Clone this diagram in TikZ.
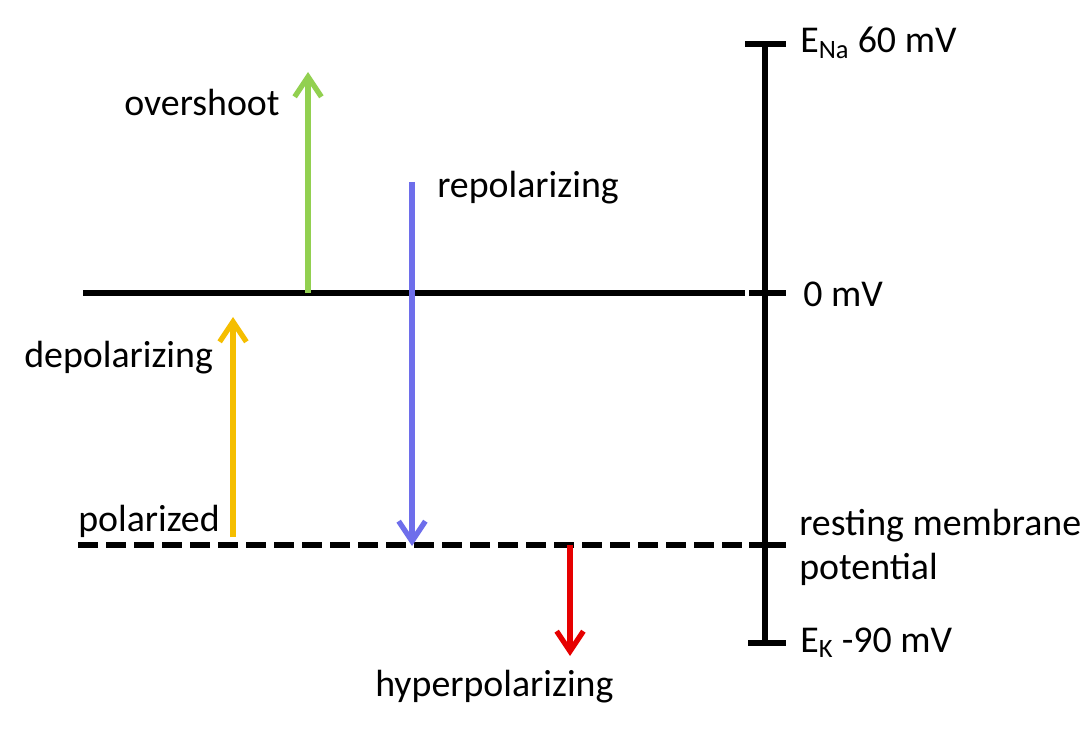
\documentclass[tikz,border=0pt]{standalone}
\usepackage{fontspec}
\setmainfont{Carlito}
\usetikzlibrary{arrows.meta}
\definecolor{cgreen}{RGB}{146,208,80}
\definecolor{cyellow}{RGB}{245,190,0}
\definecolor{cblue}{RGB}{110,110,235}
\definecolor{cred}{RGB}{230,0,0}
\begin{document}
\begin{tikzpicture}[x=0.75pt,y=-0.75pt,
  lbl/.style={inner sep=0pt,font=\fontsize{28.4}{33}\selectfont},
  axisline/.style={line width=3.9pt,black},
  varrow/.style={line width=4pt,-{Straight Barb[length=15pt,width=20pt,line width=4pt]}}]
\useasboundingbox (0,0) rectangle (1090,731);
% vertical scale
\coordinate (top) at (765,44);
\coordinate (bot) at (765,643);
\draw[axisline] (top) -- (bot);
\coordinate (t1a) at (745,44); \coordinate (t1b) at (786,44);
\coordinate (t2a) at (749,293); \coordinate (t2b) at (786,293);
\coordinate (t3a) at (749,545); \coordinate (t3b) at (786,545);
\coordinate (t4a) at (748,643); \coordinate (t4b) at (786,643);
\draw[axisline] (t1a) -- (t1b);
\draw[axisline] (t2a) -- (t2b);
\draw[axisline] (t3a) -- (t3b);
\draw[axisline] (t4a) -- (t4b);
% zero line
\coordinate (z0) at (83,293); \coordinate (z1) at (745,293);
\draw[axisline] (z0) -- (z1);
% resting line
\coordinate (r0) at (78,545); \coordinate (r1) at (745,545);
\draw[axisline,dash pattern=on 15pt off 6pt] (r0) -- (r1);
% arrows
\coordinate (g0) at (308,293); \coordinate (g1) at (308,72);
\draw[varrow,cgreen] (g0) -- (g1);
\coordinate (y0) at (233,537); \coordinate (y1) at (233,317);
\draw[varrow,cyellow] (y0) -- (y1);
\coordinate (b0) at (412,182); \coordinate (b1) at (412,546);
\draw[varrow,cblue] (b0) -- (b1);
\coordinate (rd0) at (570,545); \coordinate (rd1) at (570,656);
\draw[varrow,cred] (rd0) -- (rd1);
% labels
\node[lbl,anchor=base] (over) at (202,116) {overshoot};
\node[lbl,anchor=base west] (repol) at (437,198) {repolarizing};
\node[lbl,anchor=base west] (depol) at (24,368) {depolarizing};
\node[lbl,anchor=base west] (pol) at (78,531) {polarized};
\node[lbl,anchor=base west] (hyper) at (375,696) {hyperpolarizing};
\node[lbl,anchor=base west] (zero) at (803,306) {0 mV};
\node[lbl,anchor=base west] (ena) at (800,53) {E\textsubscript{Na} 60 mV};
\node[lbl,anchor=base west] (rest) at (799,535) {resting membrane};
\node[lbl,anchor=base west] (potl) at (799,579) {potential};
\node[lbl,anchor=base west] (ek) at (800,652) {E\textsubscript{K} -90 mV};
\end{tikzpicture}
\end{document}
